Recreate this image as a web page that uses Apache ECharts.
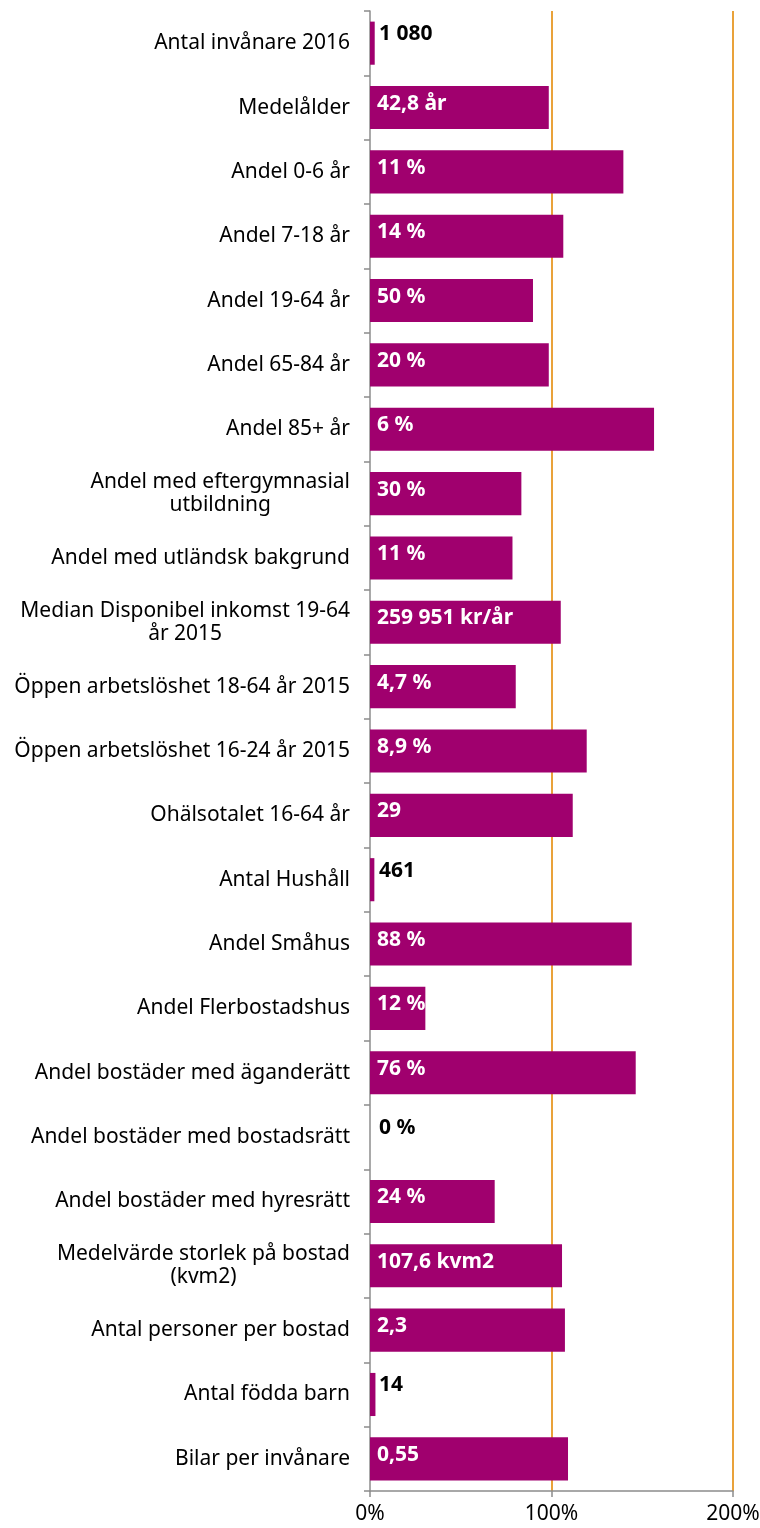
<!DOCTYPE html>
<html>
<head>
<meta charset="utf-8">
<script src="https://cdn.jsdelivr.net/npm/echarts@6/dist/echarts.min.js"></script>
<style>
html, body { margin: 0; padding: 0; background: #fff; }
#main { width: 760px; height: 1528px; }
</style>
</head>
<body>
<div id="main"></div>
<script>
var categories = [
    'Antal invånare 2016',
    'Medelålder',
    'Andel 0-6 år',
    'Andel 7-18 år',
    'Andel 19-64 år',
    'Andel 65-84 år',
    'Andel 85+ år',
    'Andel med eftergymnasial\nutbildning',
    'Andel med utländsk bakgrund',
    'Median Disponibel inkomst 19-64\når 2015',
    'Öppen arbetslöshet 18-64 år 2015',
    'Öppen arbetslöshet 16-24 år 2015',
    'Ohälsotalet 16-64 år',
    'Antal Hushåll',
    'Andel Småhus',
    'Andel Flerbostadshus',
    'Andel bostäder med äganderätt',
    'Andel bostäder med bostadsrätt',
    'Andel bostäder med hyresrätt',
    'Medelvärde storlek på bostad\n(kvm2)',
    'Antal personer per bostad',
    'Antal födda barn',
    'Bilar per invånare'
];

// index vs. comparison area, in percent
var values = [2.6, 98.5, 139.6, 106.5, 89.8, 98.5, 156.5, 83.4, 78.5, 105.1, 80.3, 119.4,
              111.7, 2.4, 144.2, 30.5, 146.4, 0, 68.7, 105.8, 107.4, 3, 109.1];

// labels shown on the bars
var valueLabels = ['1 080', '42,8 år', '11 %', '14 %', '50 %', '20 %', '6 %', '30 %', '11 %',
                   '259 951 kr/år', '4,7 %', '8,9 %', '29', '461', '88 %', '12 %', '76 %', '0 %',
                   '24 %', '107,6 kvm2', '2,3', '14', '0,55'];

var xTicks = { min: 0, max: 200, step: 100 };

var FONT = 'Noto Sans';

var barData = values.map(function (v, i) {
    var outside = v < 10;
    return {
        value: v,
        label: {
            formatter: valueLabels[i],
            color: outside ? '#000' : '#fff',
            offset: outside ? [4, -9] : [2, -4]
        }
    };
});

var option = {
    animation: false,
    backgroundColor: '#fff',
    grid: {
        left: 370,
        right: 27,
        top: 11,
        bottom: 37,
        containLabel: false,
        outerBoundsMode: 'none'
    },
    xAxis: {
        type: 'value',
        min: xTicks.min,
        max: xTicks.max,
        interval: xTicks.step,
        axisLine: { show: true, lineStyle: { color: '#8c8c8c', width: 1.5 } },
        axisTick: { show: true, length: 6, lineStyle: { color: '#8c8c8c', width: 1.5 } },
        axisLabel: {
            formatter: '{value}%',
            fontFamily: FONT,
            fontSize: 21,
            color: '#000',
            margin: 13
        },
        splitLine: {
            show: true,
            showMinLine: false,
            lineStyle: { color: '#E9A23A', width: 2 }
        }
    },
    yAxis: {
        type: 'category',
        data: categories,
        inverse: true,
        axisLine: { show: true, lineStyle: { color: '#8c8c8c', width: 1.5 } },
        axisTick: { show: true, length: 6, lineStyle: { color: '#8c8c8c', width: 1.5 } },
        axisLabel: {
            margin: 20,
            fontFamily: FONT,
            fontSize: 21,
            color: '#000',
            lineHeight: 23,
            formatter: function (val) {
                if (val.indexOf('\n') < 0) return val;
                return val.split('\n').map(function (s) { return '{c|' + s + '}'; }).join('\n');
            },
            rich: {
                c: { align: 'center', fontFamily: FONT, fontSize: 21, color: '#000', lineHeight: 23 }
            }
        }
    },
    series: [{
        type: 'bar',
        data: barData,
        barCategoryGap: '33%',
        itemStyle: {
            color: '#A0006E'
        },
        label: {
            show: true,
            position: 'insideLeft',
            distance: 5,
            fontFamily: FONT,
            fontWeight: 'bold',
            fontSize: 21
        }
    }]
};

echarts.init(document.getElementById('main')).setOption(option);
</script>
</body>
</html>
